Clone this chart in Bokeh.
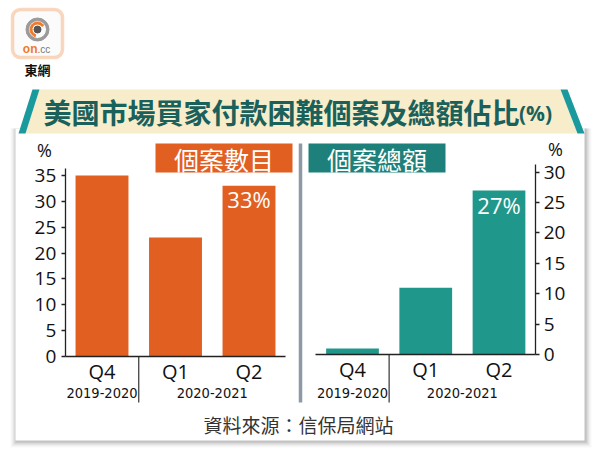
from bokeh.plotting import figure
from bokeh.models import Range1d, LinearAxis, FixedTicker, BoxAnnotation
from bokeh.core.properties import value
from bokeh.embed import file_html
from bokeh.resources import INLINE

# ---------------- data ----------------
quarters = ["Q4", "Q1", "Q2"]
years = ["2019-2020", "2020-2021"]
year_members = [[0], [1, 2]]          # quarter indices belonging to each year label
case_count = [35, 23, 33]             # 個案數目 (%)
case_amount = [1, 11, 27]             # 個案總額 (%)
left_ticks = [0, 5, 10, 15, 20, 25, 30, 35]
right_ticks = [0, 5, 10, 15, 20, 25, 30]
title_text = "美國市場買家付款困難個案及總額佔比"
title_unit = "(%)"
left_name = "個案數目"
right_name = "個案總額"
source_text = "資料來源：信保局網站"
unit_text = "%"

# ---------------- layout constants (pixels) ----------------
W, H = 600, 458
ORANGE = "#e25f22"
TEAL_BAR = "#20978b"
TEAL_BOX = "#1d807a"
TEAL_STRIPE = "#1a9a9c"
TITLE_COL = "#1a605b"
BEIGE = "#f7edca"
LOGO_OR = "#ee7a2c"
CJK = "Noto Sans CJK TC"
NUM = "Open Sans"
COND = "DejaVu Sans Condensed, Liberation Sans Narrow, Roboto"

# left chart mapping
L_X0, L_DX = 101.5, 73.5     # pixel of first bar centre, spacing
L_Y0, L_PPU = 356.0, 181.0 / 35
# right chart mapping
R_X0, R_DX = 352.0, 73.25
R_Y0, R_PPU = 354.0, 182.3 / 30

p = figure(width=W, height=H, output_backend="svg", toolbar_location=None,
           x_range=Range1d(0, W), y_range=Range1d(H, 0),
           x_axis_location=None, y_axis_location=None, min_border=0,
           outline_line_color=None, background_fill_color="white",
           border_fill_color="white")
p.grid.visible = False

p.extra_x_ranges = {
    "lx": Range1d(-L_X0 / L_DX, (W - L_X0) / L_DX),
    "rx": Range1d(-R_X0 / R_DX, (W - R_X0) / R_DX),
}
p.extra_y_ranges = {
    "ly": Range1d((L_Y0 - H) / L_PPU, L_Y0 / L_PPU),
    "ry": Range1d((R_Y0 - H) / R_PPU, R_Y0 / R_PPU),
}

# ---------------- logo ----------------
p.add_layout(BoxAnnotation(left=12, right=62, top=9, bottom=57, border_radius=8,
                           fill_color="#fbfbfb", fill_alpha=1, level="underlay",
                           line_color=LOGO_OR, line_width=3.5))
p.annulus(x=[37], y=[29], inner_radius=9, outer_radius=11.5, color="#9a9a9a")
p.annular_wedge(x=[37], y=[29], inner_radius=5.5, outer_radius=7.5,
                start_angle=0.6, end_angle=4.4, color=LOGO_OR)
p.scatter(x=[37], y=[29], size=7, color="#555555")
p.text(x=[37], y=[48], text=["on"], text_font=value("Liberation Sans"),
       text_font_style="bold", text_font_size="12px", text_color=LOGO_OR,
       text_align="right", text_baseline="middle")
p.text(x=[37], y=[49], text=[".cc"], text_font=value("Liberation Sans"),
       text_font_size="10px", text_color="#777777",
       text_align="left", text_baseline="middle")
p.text(x=[37], y=[69], text=["東網"], text_font=value(CJK), text_font_style="bold",
       text_font_size="13px", text_color="#111111",
       text_align="center", text_baseline="middle")

# ---------------- card with shadow ----------------
for d, a in [(6, 0.03), (5, 0.04), (4, 0.05), (3, 0.07), (2, 0.09), (1, 0.12)]:
    p.quad(left=[15 - d + 1], right=[584 + d + 1], top=[128], bottom=[440 + d + 1],
           fill_color="#555555", fill_alpha=a, line_color=None)
p.quad(left=[15], right=[584], top=[128], bottom=[440],
       fill_color="white", line_color=None)

# ---------------- title banner ----------------
p.patch(x=[39, 560, 577, 25], y=[89, 89, 133, 133], fill_color=BEIGE, line_color=None)
p.patch(x=[32, 39, 25, 18], y=[89, 89, 133, 133], fill_color=TEAL_STRIPE, line_color=None)
p.patch(x=[560, 567, 584, 577], y=[89, 89, 133, 133], fill_color=TEAL_STRIPE, line_color=None)
p.text(x=[43], y=[111], text=[title_text], text_font=value(CJK), text_font_style="bold",
       text_font_size="28px", text_color=TITLE_COL, text_align="left",
       text_baseline="middle")
p.text(x=[535], y=[112], text=[title_unit], text_font=value(NUM), text_font_style="bold",
       text_font_size="21px", text_color=TITLE_COL, text_align="center",
       text_baseline="middle")

# ---------------- separator ----------------
p.segment(x0=[300], y0=[143], x1=[300], y1=[402], line_color="#8d9aa5", line_width=3.5)

# ---------------- name boxes ----------------
p.quad(left=[155], right=[292], top=[143], bottom=[172], fill_color=ORANGE, line_color=None)
p.text(x=[223.5], y=[158], text=[left_name], text_font=value(CJK), text_font_size="25px",
       text_color="white", text_align="center", text_baseline="middle")
p.quad(left=[308], right=[445], top=[143], bottom=[172], fill_color=TEAL_BOX, line_color=None)
p.text(x=[376.5], y=[158], text=[right_name], text_font=value(CJK), text_font_size="25px",
       text_color="white", text_align="center", text_baseline="middle")

# unit labels
p.text(x=[44, 555], y=[149, 148], text=[unit_text, unit_text], text_font=value(NUM),
       text_font_size="18px", text_color="#111111", text_align="center",
       text_baseline="middle")

# ---------------- bars ----------------
idx = list(range(len(quarters)))
p.vbar(x=idx, top=case_count, width=0.72, x_range_name="lx", y_range_name="ly",
       fill_color=ORANGE, line_color=None)
p.vbar(x=idx, top=case_amount, width=0.72, x_range_name="rx", y_range_name="ry",
       fill_color=TEAL_BAR, line_color=None)

# value labels on latest bar
p.text(x=[idx[-1]], y=[case_count[-1]], text=[f"{case_count[-1]}%"],
       x_range_name="lx", y_range_name="ly", y_offset=-2,
       text_font=value(NUM), text_font_size="22px", text_color="white",
       text_align="center", text_baseline="top")
p.text(x=[idx[-1]], y=[case_amount[-1]], text=[f"{case_amount[-1]}%"],
       x_range_name="rx", y_range_name="ry", y_offset=0,
       text_font=value(NUM), text_font_size="22px", text_color="white",
       text_align="center", text_baseline="top")

# ---------------- axes ----------------
def style_y(ax):
    ax.axis_line_color = "#222222"
    ax.axis_line_width = 1.3
    ax.major_tick_line_color = "#222222"
    ax.major_tick_line_width = 1.3
    ax.major_tick_out = 4
    ax.major_tick_in = 0
    ax.minor_tick_line_color = None
    ax.major_label_text_font = NUM
    ax.major_label_text_font_size = "19px"
    ax.major_label_text_color = "#111111"
    ax.major_label_standoff = 5

def style_x(ax):
    ax.axis_line_color = "#222222"
    ax.axis_line_width = 1.3
    ax.major_tick_line_color = None
    ax.major_tick_out = 0
    ax.major_tick_in = 0
    ax.minor_tick_line_color = None
    ax.major_label_text_font = NUM
    ax.major_label_text_font_size = "20px"
    ax.major_label_text_color = "#111111"
    ax.major_label_standoff = 1

ly_axis = LinearAxis(x_range_name="lx", y_range_name="ly", fixed_location=-0.5,
                     ticker=FixedTicker(ticks=left_ticks), bounds=(0, 36.3))
style_y(ly_axis)
p.add_layout(ly_axis, "left")

ry_axis = LinearAxis(x_range_name="rx", y_range_name="ry", fixed_location=2.5,
                     ticker=FixedTicker(ticks=right_ticks), bounds=(0, 31.3))
style_y(ry_axis)
ry_axis.major_label_standoff = 4
p.add_layout(ry_axis, "right")

q_over = {i: q for i, q in enumerate(quarters)}
lx_axis = LinearAxis(x_range_name="lx", y_range_name="ly", fixed_location=0,
                     ticker=FixedTicker(ticks=idx), bounds=(-0.5, 2.5),
                     major_label_overrides=q_over)
style_x(lx_axis)
p.add_layout(lx_axis, "below")

rx_axis = LinearAxis(x_range_name="rx", y_range_name="ry", fixed_location=0,
                     ticker=FixedTicker(ticks=idx), bounds=(-0.5, 2.5),
                     major_label_overrides=q_over)
style_x(rx_axis)
p.add_layout(rx_axis, "below")

# year group labels and dividers
year_pos = [sum(m) / len(m) for m in year_members]
for rng, y0 in (("lx", L_Y0), ("rx", R_Y0)):
    p.text(x=year_pos, y=[392, 392], text=years, x_range_name=rng,
           text_font=value(COND), text_font_size="14.5px",
           text_color="#111111", text_align="center", text_baseline="middle")
    p.segment(x0=[0.5], y0=[y0], x1=[0.5], y1=[402], x_range_name=rng,
              line_color="#333333", line_width=1.2)

# source
p.text(x=[298], y=[424], text=[source_text], text_font=value(CJK),
       text_font_size="19px", text_color="#333333", text_align="center",
       text_baseline="middle")

open("out.html", "w").write(file_html(p, INLINE))
